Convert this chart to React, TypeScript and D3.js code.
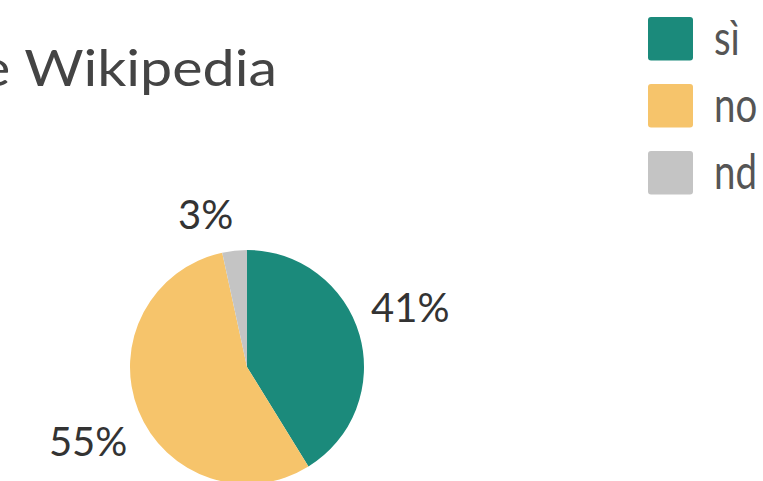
import React from "react";
import * as d3 from "d3";

const categories = ["sì", "no", "nd"];
const values = [41.2, 55.4, 3.4];
const colors = ["#1b8a7b", "#f6c46b", "#c4c4c4"];
const titleText = "e Wikipedia";

const W = 763;
const H = 481;

export default function App() {
  const cx = 247;
  const cy = 367;
  const r = 117;
  const data = categories.map((c, i) => ({ cat: c, value: values[i], color: colors[i] }));
  const pie = d3.pie<any>().value((d: any) => d.value).sort(null).startAngle(0).endAngle(2 * Math.PI);
  const arcs = pie(data);
  const arc = d3.arc<any>().innerRadius(0).outerRadius(r);
  const total = d3.sum(values);
  const legendY = d3.scaleBand().domain(categories).range([17, 194.5]).paddingInner(0.35).paddingOuter(0);

  return (
    <svg width={W} height={H} style={{ position: "absolute", left: 0, top: 0, background: "#fff" }}
      fontFamily="Lato, 'Open Sans', sans-serif">
      <text x={-20} y={86} fontSize={50} textLength={297} lengthAdjust="spacingAndGlyphs" fill="#444">{titleText}</text>
      <g transform={`translate(${cx},${cy})`}>
        {arcs.map((a, i) => (
          <path key={i} d={arc(a) as string} fill={a.data.color} />
        ))}
        {arcs.map((a, i) => {
          const mid = (a.startAngle + a.endAngle) / 2;
          const lr = r + 12;
          const s = Math.sin(mid);
          const c = Math.cos(mid);
          const x = lr * s;
          const y = -lr * c + (c > 0 ? -10 : 10);
          return (
            <text key={"l" + i} x={x} y={y} textAnchor={s > 0 ? "start" : "end"}
              dominantBaseline={c > 0 ? "alphabetic" : "hanging"} fontSize={40} fill="#333">
              {Math.round((a.data.value / total) * 100)}%
            </text>
          );
        })}
      </g>
      <g>
        {categories.map((c, i) => (
          <g key={c}>
            <rect x={648} y={legendY(c)} width={45} height={legendY.bandwidth()} rx={3} fill={colors[i]} />
            <text transform={`translate(714,${(legendY(c) as number) + 38}) scale(0.8,1)`} fontSize={48} fill="#555">{c}</text>
          </g>
        ))}
      </g>
    </svg>
  );
}
